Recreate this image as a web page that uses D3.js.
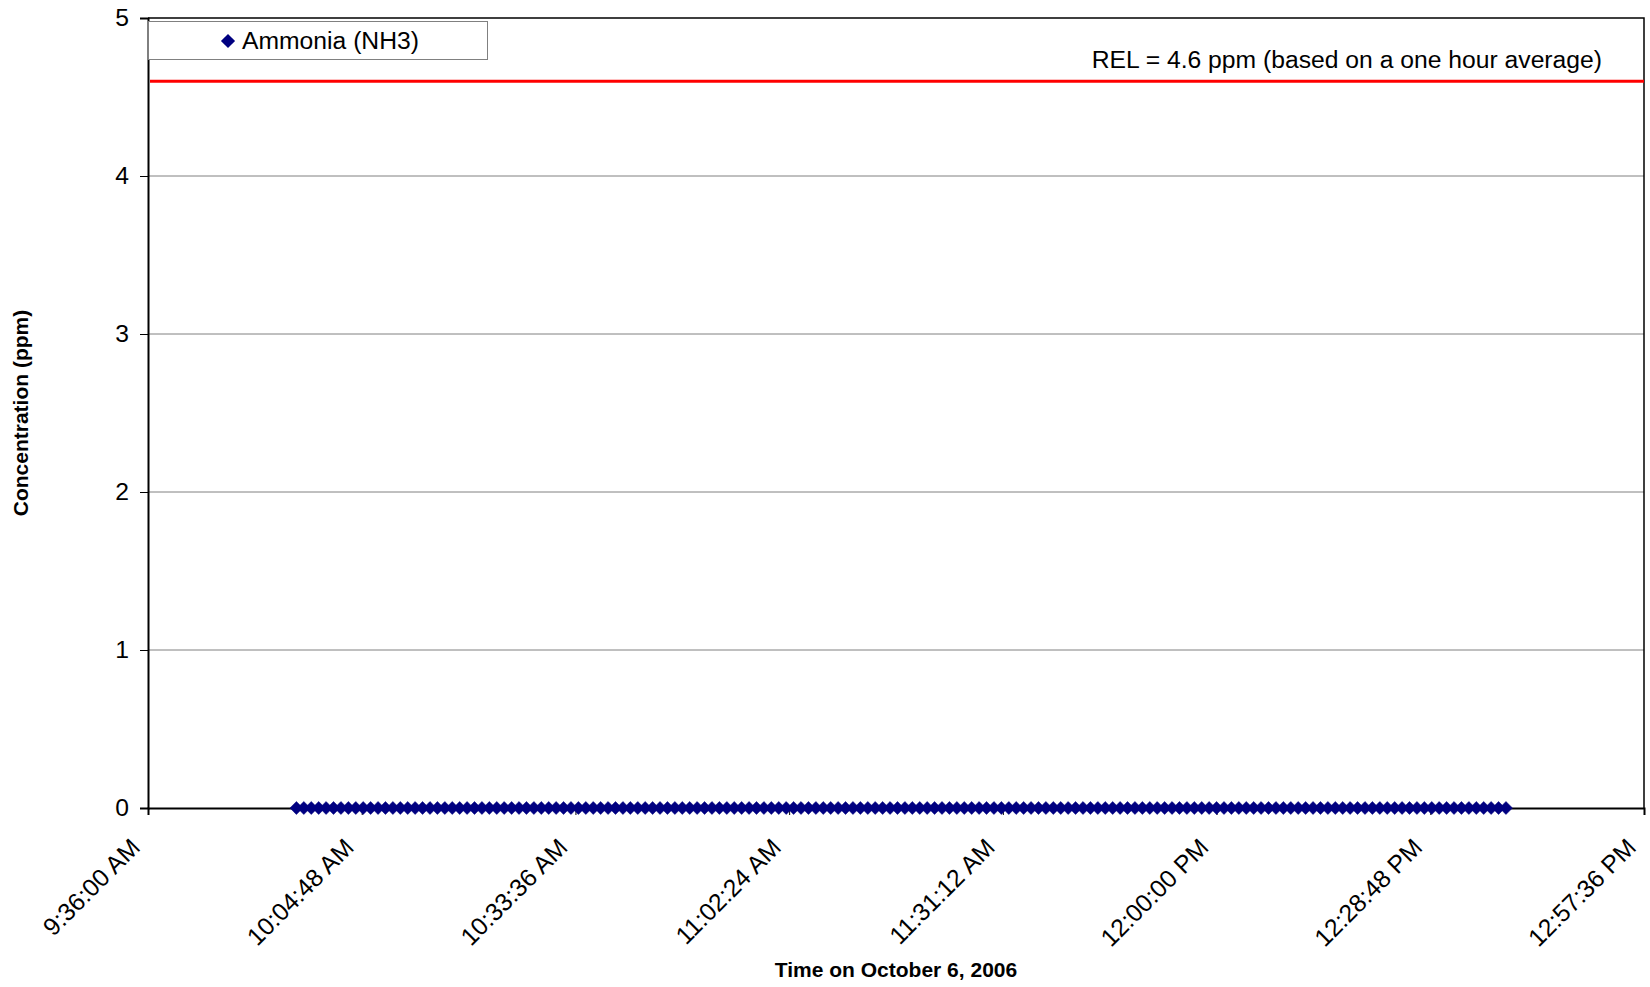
<!DOCTYPE html>
<html>
<head>
<meta charset="utf-8">
<script src="https://cdn.jsdelivr.net/npm/d3@7/dist/d3.min.js"></script>
<style>
  html, body { margin: 0; padding: 0; background: #fff; }
  svg { display: block; }
  text { font-family: "Liberation Sans", Arial, sans-serif; fill: #000; }
</style>
</head>
<body>
<svg id="chart" width="1650" height="987"></svg>
<script>
// Ammonia readings logged once a minute (ppm)
const sampleTimes = [
  "09:56","09:57","09:58","09:59",
  "10:00","10:01","10:02","10:03","10:04","10:05","10:06","10:07","10:08","10:09",
  "10:10","10:11","10:12","10:13","10:14","10:15","10:16","10:17","10:18","10:19",
  "10:20","10:21","10:22","10:23","10:24","10:25","10:26","10:27","10:28","10:29",
  "10:30","10:31","10:32","10:33","10:34","10:35","10:36","10:37","10:38","10:39",
  "10:40","10:41","10:42","10:43","10:44","10:45","10:46","10:47","10:48","10:49",
  "10:50","10:51","10:52","10:53","10:54","10:55","10:56","10:57","10:58","10:59",
  "11:00","11:01","11:02","11:03","11:04","11:05","11:06","11:07","11:08","11:09",
  "11:10","11:11","11:12","11:13","11:14","11:15","11:16","11:17","11:18","11:19",
  "11:20","11:21","11:22","11:23","11:24","11:25","11:26","11:27","11:28","11:29",
  "11:30","11:31","11:32","11:33","11:34","11:35","11:36","11:37","11:38","11:39",
  "11:40","11:41","11:42","11:43","11:44","11:45","11:46","11:47","11:48","11:49",
  "11:50","11:51","11:52","11:53","11:54","11:55","11:56","11:57","11:58","11:59",
  "12:00","12:01","12:02","12:03","12:04","12:05","12:06","12:07","12:08","12:09",
  "12:10","12:11","12:12","12:13","12:14","12:15","12:16","12:17","12:18","12:19",
  "12:20","12:21","12:22","12:23","12:24","12:25","12:26","12:27","12:28","12:29",
  "12:30","12:31","12:32","12:33","12:34","12:35","12:36","12:37","12:38","12:39"
];
const ammoniaPpm = [
  0,0,0,0,
  0,0,0,0,0,0,0,0,0,0, 0,0,0,0,0,0,0,0,0,0, 0,0,0,0,0,0,0,0,0,0,
  0,0,0,0,0,0,0,0,0,0, 0,0,0,0,0,0,0,0,0,0, 0,0,0,0,0,0,0,0,0,0,
  0,0,0,0,0,0,0,0,0,0, 0,0,0,0,0,0,0,0,0,0, 0,0,0,0,0,0,0,0,0,0,
  0,0,0,0,0,0,0,0,0,0, 0,0,0,0,0,0,0,0,0,0, 0,0,0,0,0,0,0,0,0,0,
  0,0,0,0,0,0,0,0,0,0, 0,0,0,0,0,0,0,0,0,0, 0,0,0,0,0,0,0,0,0,0,
  0,0,0,0,0,0,0,0,0,0
];
const xTickLabels = ["9:36:00 AM","10:04:48 AM","10:33:36 AM","11:02:24 AM",
                     "11:31:12 AM","12:00:00 PM","12:28:48 PM","12:57:36 PM"];
const yTickValues = [0, 1, 2, 3, 4, 5];
const relLimit = 4.6;
const seriesName = "Ammonia (NH3)";
const relLabel = "REL = 4.6 ppm (based on a one hour average)";
const xTitle = "Time on October 6, 2006";
const yTitle = "Concentration (ppm)";

const parseSample = d3.timeParse("%H:%M");
const parseTick = d3.timeParse("%I:%M:%S %p");
const data = sampleTimes.map((t, i) => ({ t: parseSample(t), v: ammoniaPpm[i] }));
const tickDates = xTickLabels.map(parseTick);

const plot = { left: 148, right: 1644, top: 18, bottom: 808 };
const labelFont = "24.7px";
const svg = d3.select("#chart");

const x = d3.scaleTime()
  .domain([tickDates[0], tickDates[tickDates.length - 1]])
  .range([plot.left, plot.right]);
const y = d3.scaleLinear().domain([0, 5]).range([plot.bottom, plot.top]);

// horizontal gridlines
svg.append("g")
  .selectAll("line")
  .data(yTickValues.filter(v => v > 0 && v < 5))
  .join("line")
  .attr("x1", plot.left).attr("x2", plot.right)
  .attr("y1", d => y(d)).attr("y2", d => y(d))
  .attr("stroke", "#808080").attr("stroke-width", 1);

// plot frame (top and right)
svg.append("path")
  .attr("d", `M${plot.left},${plot.top}H${plot.right}V${plot.bottom}`)
  .attr("fill", "none").attr("stroke", "#000").attr("stroke-width", 1.5);

// y axis
const yAxis = svg.append("g")
  .attr("transform", `translate(${plot.left},0)`)
  .call(d3.axisLeft(y).tickValues(yTickValues).tickFormat(d3.format("d")).tickSize(8).tickPadding(11));
yAxis.select(".domain").attr("stroke", "#000").attr("stroke-width", 2);
yAxis.selectAll(".tick line").attr("stroke", "#000").attr("stroke-width", 1);
yAxis.selectAll(".tick text")
  .style("font-family", "'Liberation Sans', Arial, sans-serif")
  .style("font-size", labelFont).attr("fill", "#000");

// x axis
const xAxis = svg.append("g")
  .attr("transform", `translate(0,${plot.bottom})`)
  .call(d3.axisBottom(x).tickValues(tickDates).tickFormat((d, i) => xTickLabels[i]).tickSize(7));
xAxis.select(".domain").attr("stroke", "#000").attr("stroke-width", 2);
xAxis.selectAll(".tick line").attr("stroke", "#000").attr("stroke-width", 1);
xAxis.selectAll(".tick text")
  .style("font-family", "'Liberation Sans', Arial, sans-serif")
  .style("font-size", labelFont).attr("fill", "#000")
  .attr("text-anchor", "end")
  .attr("dy", null)
  .attr("y", 0)
  .attr("transform", "translate(-7,41) rotate(-45)");

// REL reference line
svg.append("line")
  .attr("x1", plot.left + 2).attr("x2", plot.right)
  .attr("y1", y(relLimit)).attr("y2", y(relLimit))
  .attr("stroke", "#ff0000").attr("stroke-width", 3);
svg.append("text")
  .attr("x", 1602).attr("y", y(relLimit) - 13)
  .attr("text-anchor", "end")
  .style("font-size", labelFont)
  .text(relLabel);

// series line and diamond markers
const navy = "#000080";
svg.append("path")
  .datum(data)
  .attr("fill", "none").attr("stroke", navy).attr("stroke-width", 2)
  .attr("d", d3.line().x(d => x(d.t)).y(d => y(d.v)));
const diamond = d3.symbol(d3.symbolSquare, 84);
svg.append("g")
  .selectAll("path")
  .data(data)
  .join("path")
  .attr("transform", d => `translate(${x(d.t)},${y(d.v)}) rotate(45)`)
  .attr("d", diamond)
  .attr("fill", navy).attr("stroke", navy).attr("stroke-width", 0.5);

// legend
const legend = svg.append("g");
legend.append("rect")
  .attr("x", plot.left + 0.5).attr("y", 21.5).attr("width", 339).attr("height", 38)
  .attr("fill", "#fff").attr("stroke", "#808080").attr("stroke-width", 1);
legend.append("path")
  .attr("transform", "translate(228,41) rotate(45)")
  .attr("d", d3.symbol(d3.symbolSquare, 100))
  .attr("fill", navy);
legend.append("text")
  .attr("x", 242).attr("y", 49)
  .style("font-size", labelFont)
  .text(seriesName);

// axis titles
svg.append("text")
  .attr("x", (plot.left + plot.right) / 2).attr("y", 977)
  .attr("text-anchor", "middle")
  .style("font-size", "21px").style("font-weight", "bold")
  .text(xTitle);
svg.append("text")
  .attr("transform", `translate(28,${(plot.top + plot.bottom) / 2}) rotate(-90)`)
  .attr("text-anchor", "middle")
  .style("font-size", "21px").style("font-weight", "bold")
  .text(yTitle);
</script>
</body>
</html>
